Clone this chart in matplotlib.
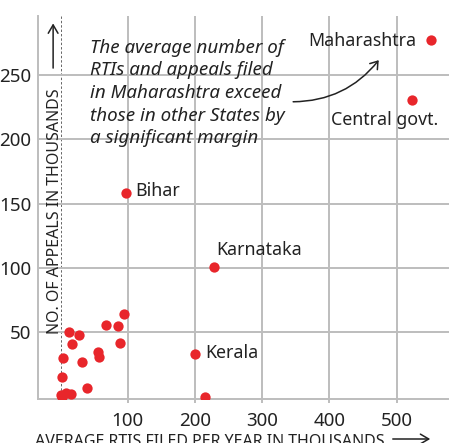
import matplotlib.pyplot as plt

plt.rcParams['font.family'] = ['Noto Sans', 'DejaVu Sans']

# Données (milliers)
rtis = [551, 523, 97, 229, 200, 214.6, 95, 86, 88.5, 67, 56, 57, 32.5, 39.5,
        27.5, 12.6, 17.6, 4, 2, 0.7, 8, 15.6, 2]
appeals = [277, 230, 158, 101, 33, 0, 64, 55, 42, 56, 35, 31, 27, 6.5,
           48, 50, 40.7, 30, 15, 1, 3, 2, 0]
xticks = [100, 200, 300, 400, 500]
yticks = [50, 100, 150, 200, 250]

red = '#e8262b'
grid = '#bdbdbd'
txt = '#222222'

fig = plt.figure(figsize=(4.49, 4.43), dpi=100)
ax = fig.add_axes([38 / 449, 1 - 399 / 443, 1 - 38 / 449, (399 - 16) / 443])
ax.set_xlim(-33.5, 578)
ax.set_ylim(-1.8, 295.6)

ax.set_xticks(xticks)
ax.set_yticks(yticks)
ax.grid(True, color=grid, lw=1.4, zorder=0)
for s in ['top', 'right']:
    ax.spines[s].set_visible(False)
for s in ['left', 'bottom']:
    ax.spines[s].set_color(grid)
    ax.spines[s].set_linewidth(1.4)
ax.tick_params(axis='x', length=3, color=grid, width=1.4, labelsize=13.5,
               labelcolor=txt, pad=6)
ax.tick_params(axis='y', length=0, labelsize=13.5, labelcolor=txt, pad=5)
ax.axvline(0, color='#666666', lw=0.7, ls=(0, (2.5, 2)), zorder=1)

ax.scatter(rtis, appeals, s=55, color=red, zorder=3, linewidths=0)

# étiquettes
ax.text(530, 276, 'Maharashtra', ha='right', va='center', fontsize=12.8, color=txt)
ax.text(402, 215, 'Central govt.', ha='left', va='center', fontsize=12.8, color=txt)
ax.text(111, 160, 'Bihar', ha='left', va='center', fontsize=12.8, color=txt)
ax.text(231, 114, 'Karnataka', ha='left', va='center', fontsize=12.8, color=txt)
ax.text(215, 34, 'Kerala', ha='left', va='center', fontsize=12.8, color=txt)

ax.text(44, 278, 'The average number of\nRTIs and appeals filed\n'
        'in Maharashtra exceed\nthose in other States by\na significant margin',
        ha='left', va='top', fontsize=13.5, style='italic', color=txt,
        linespacing=1.33)
ax.annotate('', xy=(476, 263), xytext=(342, 229),
            arrowprops=dict(arrowstyle='->,head_length=0.5,head_width=0.35',
                            color=txt, lw=1.1,
                            connectionstyle='arc3,rad=0.25'))

# titres d'axes
ax.text(-20, 49, 'NO. OF APPEALS IN THOUSANDS', rotation=90, ha='left',
        va='bottom', fontsize=11.5, color=txt)
ax.annotate('', xy=(-11, 292), xytext=(-11, 253),
            arrowprops=dict(arrowstyle='->,head_length=0.6,head_width=0.35',
                            color=txt, lw=1.1))
fig.text(35 / 449, 1 - 450 / 443, 'AVERAGE RTIS FILED PER YEAR IN THOUSANDS',
         ha='left', va='bottom', fontsize=11.5, color=txt)
ax.annotate('', xy=(433 / 449, 1 - 439 / 443), xytext=(390 / 449, 1 - 439 / 443),
            xycoords='figure fraction', textcoords='figure fraction',
            arrowprops=dict(arrowstyle='->,head_length=0.6,head_width=0.35',
                            color=txt, lw=1.1), annotation_clip=False)

fig.savefig('out.png', dpi=100)
